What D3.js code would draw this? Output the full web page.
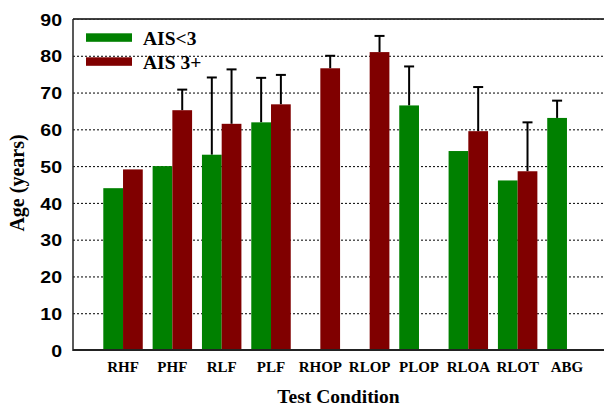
<!DOCTYPE html>
<html><head><meta charset="utf-8">
<script src="https://cdn.jsdelivr.net/npm/d3@7"></script>
<style>body{margin:0;background:#fff}svg{display:block}</style>
</head><body><svg id="c" width="604" height="407"></svg>
<script>
const categories = ["RHF","PHF","RLF","PLF","RHOP","RLOP","PLOP","RLOA","RLOT","ABG"];
const seriesNames = ["AIS<3","AIS 3+"];
const lowAIS = [44, 50, 53.1, 61.9, 0, 0, 66.5, 54.1, 46.1, 63.1];
const highAIS = [49.1, 65.2, 61.5, 66.8, 76.6, 81.0, 0, 59.5, 48.6, 0];
const lowAISErr = [null, null, 74.1, 74.0, null, null, 77.1, null, null, 67.8];
const highAISErr = [null, 70.8, 76.3, 74.8, 80.0, 85.4, null, 71.5, 61.9, null];
const yTicks = [0,10,20,30,40,50,60,70,80,90];
const colors = ["#008000","#800000"];

const svg = d3.select("#c");
const L = 73, R = 604, T = 19, B = 350;
const y = d3.scaleLinear().domain([0,90]).range([B,T]);
const x = d3.scaleBand().domain(categories).range([103.3, 586.7]).paddingInner(0.2).paddingOuter(0);
const xs = d3.scaleBand().domain([0,1]).range([0, x.bandwidth()]);

// gridlines
svg.append("g").selectAll("line").data(yTicks.filter(d=>d>0)).join("line")
  .attr("x1", L).attr("x2", R).attr("y1", d=>y(d)+0.5).attr("y2", d=>y(d)+0.5)
  .attr("stroke", d=> d===90 ? "#bbb" : "#000").attr("stroke-width",1).attr("stroke-dasharray","2,2");

const series = [lowAIS, highAIS];
const errs = [lowAISErr, highAISErr];
series.forEach((vals, si) => {
  const g = svg.append("g");
  categories.forEach((c, i) => {
    const e = errs[si][i];
    if (e == null) return;
    const cx = x(c) + xs(si) + xs.bandwidth()/2;
    g.append("line").attr("x1",cx).attr("x2",cx).attr("y1",y(vals[i])).attr("y2",y(e)).attr("stroke","#000").attr("stroke-width",2);
    g.append("line").attr("x1",cx-5).attr("x2",cx+5).attr("y1",y(e)).attr("y2",y(e)).attr("stroke","#000").attr("stroke-width",2);
  });
});
series.forEach((vals, si) => {
  svg.append("g").selectAll("rect").data(vals).join("rect")
    .attr("x", (d,i)=> x(categories[i]) + xs(si))
    .attr("width", xs.bandwidth())
    .attr("y", d=>y(d)).attr("height", d=>B - y(d))
    .attr("fill", colors[si]);
});

// axes lines
svg.append("line").attr("x1",L).attr("x2",R).attr("y1",T).attr("y2",T).attr("stroke","#000").attr("stroke-width",1.5);
svg.append("line").attr("x1",L).attr("x2",L).attr("y1",T).attr("y2",B+1).attr("stroke","#222").attr("stroke-width",1.5);
svg.append("line").attr("x1",L).attr("x2",R).attr("y1",B).attr("y2",B).attr("stroke","#222").attr("stroke-width",2);

// y tick labels (slightly stretched horizontally like the original)
const sx = 1.15;
const yAxis = d3.axisLeft(y).tickValues(yTicks).tickSize(0).tickPadding(0);
const ya = svg.append("g").attr("transform",`translate(${L},0)`).call(yAxis);
ya.select(".domain").remove();
ya.selectAll("text").attr("font-family","'Liberation Sans', Arial, sans-serif").attr("font-weight","bold")
  .attr("font-size",17).attr("fill","#000").attr("dy","0.36em")
  .attr("x", -11/sx).attr("transform", `scale(${sx},1)`);

// x tick labels
const xAxis = d3.axisBottom(x).tickSize(0).tickPadding(0);
const xa = svg.append("g").attr("transform",`translate(0,${B})`).call(xAxis);
xa.select(".domain").remove();
xa.selectAll("text").attr("font-family","'Liberation Serif', 'Times New Roman', serif").attr("font-weight","bold").attr("font-size",15).attr("fill","#000").attr("dy",null).attr("y",22);

// axis titles
svg.append("text").attr("x",(L+R)/2).attr("y",403).attr("text-anchor","middle")
  .attr("font-family","'Liberation Serif', serif").attr("font-weight","bold").attr("font-size",19.5).text("Test Condition");
svg.append("text").attr("transform",`translate(24,183) rotate(-90)`).attr("text-anchor","middle")
  .attr("font-family","'Liberation Serif', serif").attr("font-weight","bold").attr("font-size",20).text("Age (years)");

// legend
const leg = svg.append("g");
seriesNames.forEach((n, i) => {
  const yy = 33.3 + i*24;
  leg.append("rect").attr("x",86).attr("y",yy).attr("width",46).attr("height",8.5).attr("fill",colors[i]);
  leg.append("text").attr("x",143).attr("y",yy+12).attr("font-family","'Liberation Serif', serif").attr("font-weight","bold").attr("font-size",19.5).text(n);
});
</script></body></html>
